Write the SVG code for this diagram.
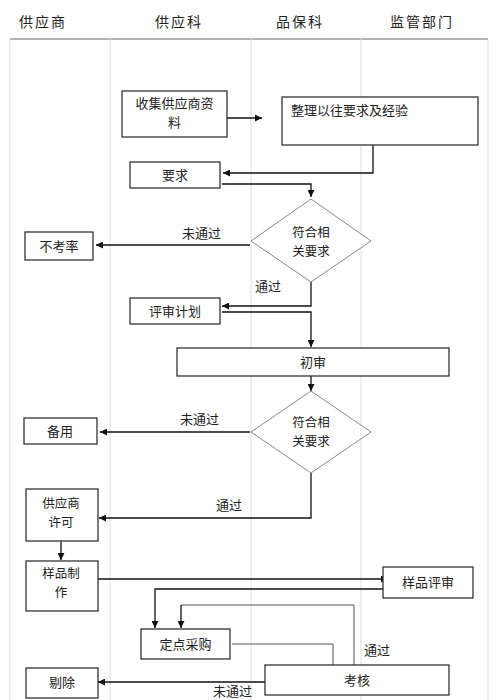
<svg xmlns="http://www.w3.org/2000/svg" width="500" height="700" viewBox="0 0 500 700">
<defs>
<marker id="arr" viewBox="0 0 10 10" refX="10" refY="5" markerWidth="7" markerHeight="7" markerUnits="userSpaceOnUse" orient="auto">
<path d="M0,0 L10,5 L0,10 z" fill="#111"/>
</marker>
<style>
text{font-family:"Noto Sans CJK SC","Liberation Sans",sans-serif;font-size:13px;fill:#222;}
.hd{font-size:14px;letter-spacing:2px;text-anchor:middle;}
.c{text-anchor:middle;}
.t2{font-size:12.5px;}
.box{fill:#fff;stroke:#333;stroke-width:1.3;}
.dia{fill:#fff;stroke:#888;stroke-width:1;}
.lane{stroke:#ddd;stroke-width:1;fill:none;}
.ln{stroke:#111;stroke-width:1.3;fill:none;}
.lg{stroke:#555;stroke-width:1;fill:none;}
</style>
</defs>
<rect width="500" height="700" fill="#fff"/>
<g id="lanes">
<text class="hd" x="43" y="27">供应商</text>
<text class="hd" x="179" y="27">供应科</text>
<text class="hd" x="300" y="27">品保科</text>
<text class="hd" x="422" y="27">监管部门</text>
<line x1="10" y1="39" x2="488" y2="39" stroke="#666" stroke-width="1"/>
<line class="lane" x1="10" y1="39" x2="10" y2="700"/>
<line class="lane" x1="110" y1="39" x2="110" y2="700"/>
<line class="lane" x1="251" y1="39" x2="251" y2="700"/>
<line class="lane" x1="361" y1="39" x2="361" y2="700"/>
<line class="lane" x1="488" y1="39" x2="488" y2="700"/>
</g>
<g id="connectors">
<line class="ln" x1="227" y1="118" x2="262" y2="118" marker-end="url(#arr)"/>
<polyline class="ln" points="373,145 373,173 223,173" marker-end="url(#arr)"/>
<polyline class="ln" points="222,184 311,184 311,197" marker-end="url(#arr)"/>
<line class="ln" x1="250" y1="245" x2="96" y2="245" marker-end="url(#arr)"/>
<polyline class="ln" points="311,282 311,306 222,306" marker-end="url(#arr)"/>
<polyline class="ln" points="222,312 311,312 311,347" marker-end="url(#arr)"/>
<line class="ln" x1="311" y1="376" x2="311" y2="391" marker-end="url(#arr)"/>
<line class="ln" x1="250" y1="432" x2="100" y2="432" marker-end="url(#arr)"/>
<polyline class="ln" points="311,473 311,518 99,518" marker-end="url(#arr)"/>
<line class="ln" x1="61" y1="541" x2="61" y2="560" marker-end="url(#arr)"/>
<line class="ln" x1="98" y1="579" x2="388" y2="579" marker-end="url(#arr)"/>
<polyline class="ln" points="383,589 155,589 155,628" marker-end="url(#arr)"/>
<polyline class="lg" points="354,665 354,605 181,605"/>
<line class="ln" x1="181" y1="605" x2="181" y2="628" marker-end="url(#arr)"/>
<polyline class="lg" points="232,644 333,644 333,665"/>
<line class="ln" x1="265" y1="682" x2="98" y2="682" marker-end="url(#arr)"/>
<text x="182" y="238">未通过</text>
<text x="255" y="291">通过</text>
<text x="180" y="424">未通过</text>
<text x="216" y="510">通过</text>
<text x="364" y="655">通过</text>
<text x="213" y="696">未通过</text>
</g>
<g id="n1"><rect class="box" x="122" y="91" width="105" height="46"/><text class="c" x="174.5" y="108">收集供应商资</text><text class="c" x="174.5" y="127">料</text></g>
<g id="n2"><rect class="box" x="282" y="97" width="196" height="48"/><text x="291" y="115">整理以往要求及经验</text></g>
<g id="n3"><rect class="box" x="130" y="162" width="90" height="26"/><text class="c" x="175" y="180">要求</text></g>
<g id="d1"><polygon class="dia" points="311,199 371,241 311,282 251,241"/><text class="c t2" x="311" y="237">符合相</text><text class="c t2" x="311" y="256">关要求</text></g>
<g id="n4"><rect class="box" x="25" y="232" width="68" height="28"/><text class="c" x="59" y="251">不考率</text></g>
<g id="n5"><rect class="box" x="130" y="298" width="90" height="26"/><text class="c" x="175" y="316">评审计划</text></g>
<g id="n6"><rect class="box" x="177" y="348" width="272" height="28"/><text class="c" x="313" y="367">初审</text></g>
<g id="d2"><polygon class="dia" points="311,391 371,432 311,473 251,432"/><text class="c t2" x="311" y="427">符合相</text><text class="c t2" x="311" y="446">关要求</text></g>
<g id="n7"><rect class="box" x="24" y="418" width="73" height="26"/><text class="c" x="60" y="436">备用</text></g>
<g id="n8"><rect class="box" x="26" y="489" width="72" height="52"/><text class="c t2" x="61" y="508">供应商</text><text class="c t2" x="61" y="527">许可</text></g>
<g id="n9"><rect class="box" x="26" y="561" width="72" height="50"/><text class="c t2" x="61" y="578">样品制</text><text class="c t2" x="61" y="597">作</text></g>
<g id="n10"><rect class="box" x="383" y="567" width="90" height="31"/><text class="c" x="428" y="587">样品评审</text></g>
<g id="n11"><rect class="box" x="141" y="629" width="89" height="30"/><text class="c" x="185.5" y="649">定点采购</text></g>
<g id="n12"><rect class="box" x="265" y="665" width="184" height="30"/><text class="c" x="357" y="685">考核</text></g>
<g id="n13"><rect class="box" x="26" y="668" width="72" height="30"/><text class="c" x="62" y="687">剔除</text></g>
</svg>
